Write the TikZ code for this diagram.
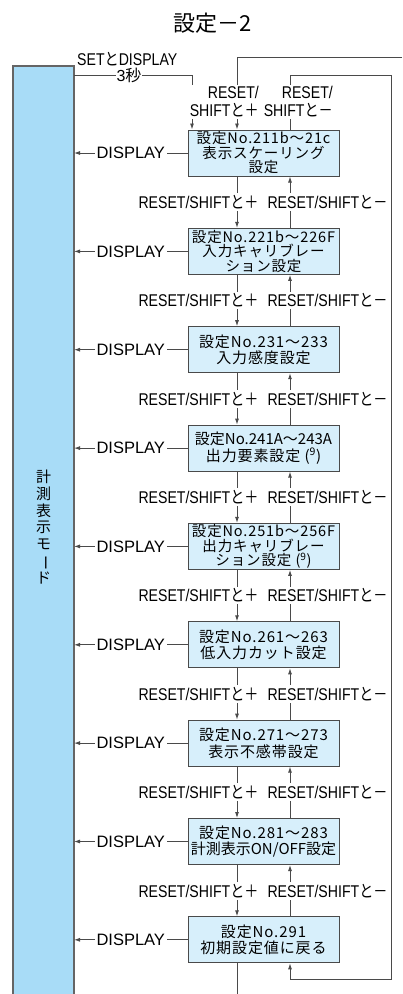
\documentclass[tikz,border=0pt]{standalone}
\usepackage{fontspec}
\usepackage{graphicx}
\setmainfont{Liberation Sans}
\newfontfamily\jp{Noto Sans CJK JP}
\newfontfamily\jpb[LetterSpace=6]{Noto Sans CJK JP}
\usetikzlibrary{arrows.meta}
\definecolor{barblue}{HTML}{A8DCF7}
\definecolor{boxblue}{HTML}{D7EFFB}
\definecolor{ln}{HTML}{4A4A4A}
\newcommand{\cnd}[1]{\scalebox{0.83}[1]{#1}}
\newcommand{\plab}{\cnd{RESET/SHIFT{\jp と＋}}}
\newcommand{\mlab}{\cnd{RESET/SHIFT{\jp と－}}}
\begin{document}
\begin{tikzpicture}[x=1pt,y=-1pt,
  box/.style={draw=ln, fill=boxblue, line width=1pt, minimum width=151pt, minimum height=46pt,
    inner sep=0pt, align=center, font=\jpb\fontsize{14.5}{14.5}\selectfont},
  boxtwo/.style={box, font=\jpb\fontsize{15}{16.5}\selectfont},
  conn/.style={draw=ln, line width=0.9pt},
  arr/.style={conn, -{Latex[length=6pt,width=4pt]}},
  lab/.style={fill=white, inner xsep=1pt, inner ysep=2pt, font=\fontsize{17}{18}\selectfont},
  dlab/.style={fill=white, inner xsep=2pt, inner ysep=1pt, font=\fontsize{16.5}{16.5}\selectfont}]
\useasboundingbox (0,0) rectangle (402,994);
% left bar
\fill[barblue] (13,66) rectangle (74,994);
\draw[draw=ln!85, line width=1.2pt] (13,994) -- (13,66) -- (74,66) -- (74,994);
\coordinate (barR) at (74,66);
\node[font=\jp\fontsize{15}{16.7}\selectfont, align=center] (bartxt) at (43.5,527)
  {計\\測\\表\\示\\モ\\\rotatebox[origin=c]{-90}{ー}\\ド};
% title
\node[font=\jp\fontsize{22}{22}\selectfont] (title) at (213,23) {設定－2};
% boxes
\node[box] (b1) at (263.5,153) {設定No.211b〜21c\\表示スケーリング\\設定};
\node[box] (b2) at (263.5,251.4) {設定No.221b〜226F\\入力キャリブレー\\ション設定};
\node[boxtwo] (b3) at (263.5,349.7) {設定No.231〜233\\入力感度設定};
\node[boxtwo] (b4) at (263.5,448.1) {{\jp 設定No.241A〜243A}\\出力要素設定 (\textsuperscript{9})};
\node[box] (b5) at (263.5,546.4) {設定No.251b〜256F\\出力キャリブレー\\ション設定 (\textsuperscript{9})};
\node[boxtwo] (b6) at (263.5,644.8) {設定No.261〜263\\低入力カット設定};
\node[boxtwo] (b7) at (263.5,743.1) {設定No.271〜273\\表示不感帯設定};
\node[boxtwo] (b8) at (263.5,841.5) {設定No.281〜283\\{\jp 計測表示ON/OFF設定}};
\node[boxtwo] (b9) at (263.5,939.8) {設定No.291\\初期設定値に戻る};
% helper coordinates
\coordinate (xd) at (237,0);
\coordinate (xu) at (290,0);
\coordinate (topR) at (402,57);
\coordinate (topC) at (237,57);
\coordinate (inT) at (290,75);
\coordinate (inTR) at (391,75);
\coordinate (inBR) at (391,979);
\coordinate (inBL) at (290,979);
\coordinate (botC) at (237,994);
\coordinate (s3a) at (74,75);
\coordinate (s3b) at (192,75);
% top connectors
\draw[arr] (topR) -- (topC) -- (b1.north -| xd);
\draw[arr] (b1.north -| xu) -- (inT) -- (inTR) -- (inBR) -- (inBL) -- (b9.south -| xu);
\draw[conn] (b9.south -| xd) -- (botC);
\draw[arr] (s3a) -- (s3b) -- (b1.north -| s3b);
% vertical connectors between boxes
\foreach \a/\b in {b1/b2,b2/b3,b3/b4,b4/b5,b5/b6,b6/b7,b7/b8,b8/b9}{
  \draw[arr] (\a.south -| xd) -- (\b.north -| xd);
  \draw[arr] (\b.north -| xu) -- (\a.south -| xu);
}
% DISPLAY connectors
\foreach \n in {1,...,9}{
  \draw[arr] (b\n.west) -- node[dlab] (d\n) {DISPLAY} (b\n.west -| barR);
}
% labels
\node[lab] (t3) at (129,75) {\fontsize{16}{16}\selectfont 3{\jp 秒}};
\node[anchor=west, font=\fontsize{17}{17}\selectfont, inner sep=0pt] (setd) at (77,59) {\cnd{SET{\jp と}DISPLAY}};
\node[lab, align=right, anchor=east] (tp) at (260,102) {\cnd{RESET/}\\\cnd{SHIFT{\jp と＋}}};
\node[lab, align=right, anchor=east] (tm) at (334,102) {\cnd{RESET/}\\\cnd{SHIFT{\jp と－}}};
\node[lab] (p1) at (198.5,202.2) {\plab};  \node[lab] (m1) at (327.5,202.2) {\mlab};
\node[lab] (p2) at (198.5,300.6) {\plab};  \node[lab] (m2) at (327.5,300.6) {\mlab};
\node[lab] (p3) at (198.5,398.9) {\plab};  \node[lab] (m3) at (327.5,398.9) {\mlab};
\node[lab] (p4) at (198.5,497.3) {\plab};  \node[lab] (m4) at (327.5,497.3) {\mlab};
\node[lab] (p5) at (198.5,595.6) {\plab};  \node[lab] (m5) at (327.5,595.6) {\mlab};
\node[lab] (p6) at (198.5,694.0) {\plab};  \node[lab] (m6) at (327.5,694.0) {\mlab};
\node[lab] (p7) at (198.5,792.3) {\plab};  \node[lab] (m7) at (327.5,792.3) {\mlab};
\node[lab] (p8) at (198.5,890.7) {\plab};  \node[lab] (m8) at (327.5,890.7) {\mlab};
\end{tikzpicture}
\end{document}
